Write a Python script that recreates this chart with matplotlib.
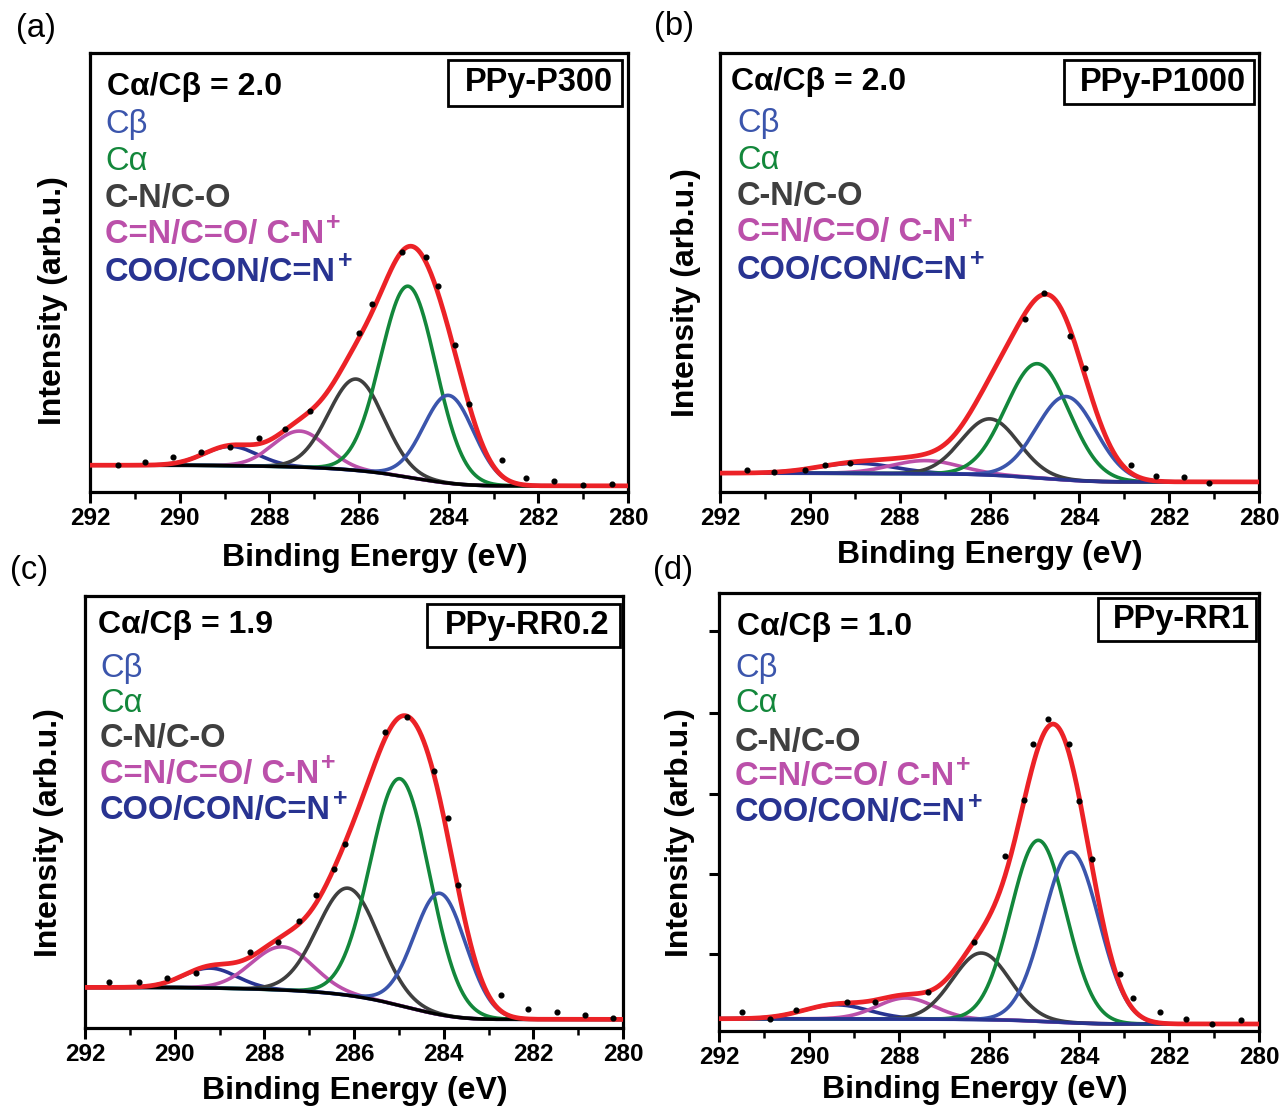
import numpy as np
import matplotlib
matplotlib.use("Agg")
import matplotlib.pyplot as plt
from matplotlib.patches import Rectangle

plt.rcParams['font.family'] = ['Liberation Sans', 'DejaVu Sans']

# ---------------- data ----------------
panel_tags = ['(a)', '(b)', '(c)', '(d)']
sample_names = ['PPy-P300', 'PPy-P1000', 'PPy-RR0.2', 'PPy-RR1']
ratio_values = ['2.0', '2.0', '1.9', '1.0']
component_names = ['Cβ', 'Cα', 'C-N/C-O', 'C=N/C=O/ C-N', 'COO/CON/C=N']
component_sup = ['', '', '', '+', '+']
component_bold = [False, False, True, True, True]
x_ticks = [292, 290, 288, 286, 284, 282, 280]

# component peaks (order: Cb, Ca, C-N/C-O, C=N/C=O/C-N+, COO/CON/C=N+)
centers_a = [284.00, 284.90, 286.06, 287.32, 288.86]
heights_a = [20.0, 43.5, 20.8, 8.2, 4.4]
fwhm_a = [1.32, 1.45, 1.45, 1.40, 1.40]
bg_a = [6.1, 1.4]          # high-BE end, low-BE end

centers_b = [284.29, 284.93, 285.99, 287.42, 288.96]
heights_b = [19.0, 26.0, 12.8, 3.0, 2.3]
fwhm_b = [1.55, 1.65, 1.50, 1.80, 2.00]
bg_b = [4.3, 2.3]

centers_c = [284.08, 284.97, 286.13, 287.60, 289.21]
heights_c = [28.1, 52.5, 24.8, 10.0, 4.6]
fwhm_c = [1.36, 1.56, 1.60, 1.60, 1.40]
bg_c = [9.4, 2.0]

centers_d = [284.17, 284.90, 286.17, 287.85, 289.39]
heights_d = [39.0, 41.3, 15.2, 4.8, 3.2]
fwhm_d = [1.45, 1.45, 1.50, 1.50, 1.70]
bg_d = [2.8, 1.6]

# measured points (black dots)
dots_x_a = [291.38, 290.77, 290.14, 289.52, 288.88, 288.23, 287.64, 287.09,
            286.0, 285.7, 285.05, 284.5, 284.23, 283.86, 283.55, 282.82,
            282.27, 281.64, 281.0, 280.36]
dots_y_a = [6.1, 6.8, 7.9, 9.0, 10.2, 12.2, 14.3, 18.4, 36.3, 42.9, 54.7,
            53.5, 46.9, 33.5, 20.0, 7.3, 3.3, 2.4, 1.6, 1.9]

dots_x_b = [291.39, 290.79, 290.11, 289.67, 289.10, 285.2, 284.79, 284.2,
            283.88, 282.84, 282.29, 281.66, 281.12]
dots_y_b = [4.9, 4.6, 5.1, 6.2, 6.5, 39.3, 45.3, 35.6, 28.3, 6.1, 3.6, 3.4, 2.0]

dots_x_c = [291.46, 290.80, 290.18, 289.53, 288.31, 287.70, 287.22, 286.85,
            286.44, 286.19, 285.31, 284.81, 284.22, 283.90, 283.68, 282.72,
            282.11, 281.47, 280.84, 280.23]
dots_y_c = [10.6, 10.6, 11.6, 12.7, 17.5, 19.9, 24.7, 30.7, 36.7, 42.6, 68.5,
            72.1, 59.4, 48.6, 33.1, 7.7, 4.5, 3.7, 2.9, 2.4]

dots_x_d = [291.49, 290.87, 290.29, 289.16, 288.54, 287.35, 286.33, 285.64,
            285.22, 285.03, 284.69, 284.22, 284.01, 283.72, 283.08, 282.79,
            282.20, 281.63, 281.04, 280.41]
dots_y_d = [4.4, 2.8, 4.9, 6.7, 6.7, 8.9, 20.4, 39.9, 52.8, 65.5, 71.2, 65.5,
            52.6, 39.3, 13.1, 7.5, 4.3, 2.7, 1.7, 2.5]

d_yticks = [17.6, 35.8, 54.1, 72.7, 91.3]

# ---------------- style / layout ----------------
W, H = 1280, 1113
comp_colors = ['#3b55ac', '#13873b', '#3f3f3f', '#bb50aa', '#283391']
red = '#ec2227'
bg_colors = ['black', '#283391', 'black', '#283391']

rects = [(90, 53, 628, 492), (720, 53, 1259, 492),
         (85, 596, 623, 1028), (719, 593, 1259, 1031)]
tag_pos = [(16, 29), (654, 27), (10, 570), (653, 570)]
ratio_pos = [(107, 87), (731, 82), (98, 625), (737, 627)]
legend_x = [105, 737, 100, 735]
legend_y = [[125, 161, 198, 234, 272], [124, 160, 197, 233, 270],
            [668, 703, 739, 774, 810], [668, 703, 742, 776, 813]]
box_rects = [(448, 60, 622, 106), (1064, 60, 1254, 104),
             (427, 604, 620, 647), (1098, 598, 1256, 641)]
xlabel_pos = [(375, 558), (990, 555), (355, 1091), (975, 1090)]
ylabel_pos = [(53, 301), (686, 293), (49, 833), (680, 833)]


def fx(px):
    return px / W


def fy(py):
    return 1 - py / H


def gauss(x, c, h, w):
    return h * np.exp(-4 * np.log(2) * (x - c) ** 2 / w ** 2)


fig = plt.figure(figsize=(12.8, 11.13), dpi=100)

panels = [
    (centers_a, heights_a, fwhm_a, bg_a, dots_x_a, dots_y_a),
    (centers_b, heights_b, fwhm_b, bg_b, dots_x_b, dots_y_b),
    (centers_c, heights_c, fwhm_c, bg_c, dots_x_c, dots_y_c),
    (centers_d, heights_d, fwhm_d, bg_d, dots_x_d, dots_y_d),
]

xg = np.linspace(280, 292, 1200)

for i, (cen, hei, fw, bg, dx, dy) in enumerate(panels):
    l, t, r, b = rects[i]
    ax = fig.add_axes([fx(l), fy(b), (r - l) / W, (b - t) / H])
    comps = [gauss(xg, c, h, w) for c, h, w in zip(cen, hei, fw)]
    total = np.sum(comps, axis=0)
    # Shirley-type background between the two end levels
    cum = np.concatenate([[0], np.cumsum((total[1:] + total[:-1]) / 2 * np.diff(xg))])
    bgl = bg[1] + (bg[0] - bg[1]) * cum / cum[-1]

    for k in [4, 3, 2, 1, 0]:
        ax.plot(xg, comps[k] + bgl, color=comp_colors[k], lw=2.6, zorder=3 + (4 - k) * 0.1)
    ax.plot(xg, bgl, color=bg_colors[i], lw=2.4, zorder=3.6)
    ax.plot(xg, total + bgl, color=red, lw=3.4, zorder=4)
    ax.plot(dx, dy, 'o', color='black', ms=3.4, zorder=5, ls='none')

    ax.set_xlim(292, 280)
    ax.set_ylim(0, 100)
    ax.set_xticks(x_ticks)
    ax.set_xticklabels([str(v) for v in x_ticks], fontsize=17.5, fontweight='bold')
    ax.set_xticks(np.arange(281, 292, 2), minor=True)
    ax.tick_params(axis='x', which='major', direction='out', length=8, width=2.2, pad=3)
    ax.tick_params(axis='x', which='minor', direction='out', length=5, width=1.8)
    if i == 3:
        ax.set_yticks(d_yticks)
        ax.set_yticklabels([])
        ax.tick_params(axis='y', which='major', direction='out', length=7, width=2.2)
    else:
        ax.set_yticks([])
    for s in ax.spines.values():
        s.set_linewidth(2.3)

    # texts
    fig.text(fx(tag_pos[i][0]), fy(tag_pos[i][1]), panel_tags[i], fontsize=23.5,
             ha='left', va='center')
    fig.text(fx(ratio_pos[i][0]), fy(ratio_pos[i][1]), 'Cα/Cβ = ' + ratio_values[i],
             fontsize=23, fontweight='bold', ha='left', va='center')
    for k in range(5):
        tx = fig.text(fx(legend_x[i]), fy(legend_y[i][k]), component_names[k],
                      fontsize=23.5, fontweight='bold' if component_bold[k] else 'normal',
                      color=comp_colors[k], ha='left', va='center')
        if component_sup[k]:
            fig.add_artist(matplotlib.text.Annotation(
                component_sup[k], xy=(1.0, 0.86), xycoords=tx,
                xytext=(1.5, 0), textcoords='offset points',
                fontsize=18, fontweight='bold', color=comp_colors[k],
                ha='left', va='center'))
    bx0, by0, bx1, by1 = box_rects[i]
    fig.add_artist(Rectangle((fx(bx0), fy(by1)), (bx1 - bx0) / W, (by1 - by0) / H,
                             transform=fig.transFigure, fill=False, lw=2.0,
                             edgecolor='black', zorder=6))
    fig.text(fx((bx0 + bx1) / 2 + 4), fy((by0 + by1) / 2), sample_names[i],
             fontsize=23.5, fontweight='bold', ha='center', va='center')
    fig.text(fx(xlabel_pos[i][0]), fy(xlabel_pos[i][1]), 'Binding Energy (eV)',
             fontsize=23, fontweight='bold', ha='center', va='center')
    fig.text(fx(ylabel_pos[i][0]), fy(ylabel_pos[i][1]), 'Intensity (arb.u.)',
             fontsize=23, fontweight='bold', ha='center', va='center', rotation=90)

fig.savefig('out.png', dpi=100)
